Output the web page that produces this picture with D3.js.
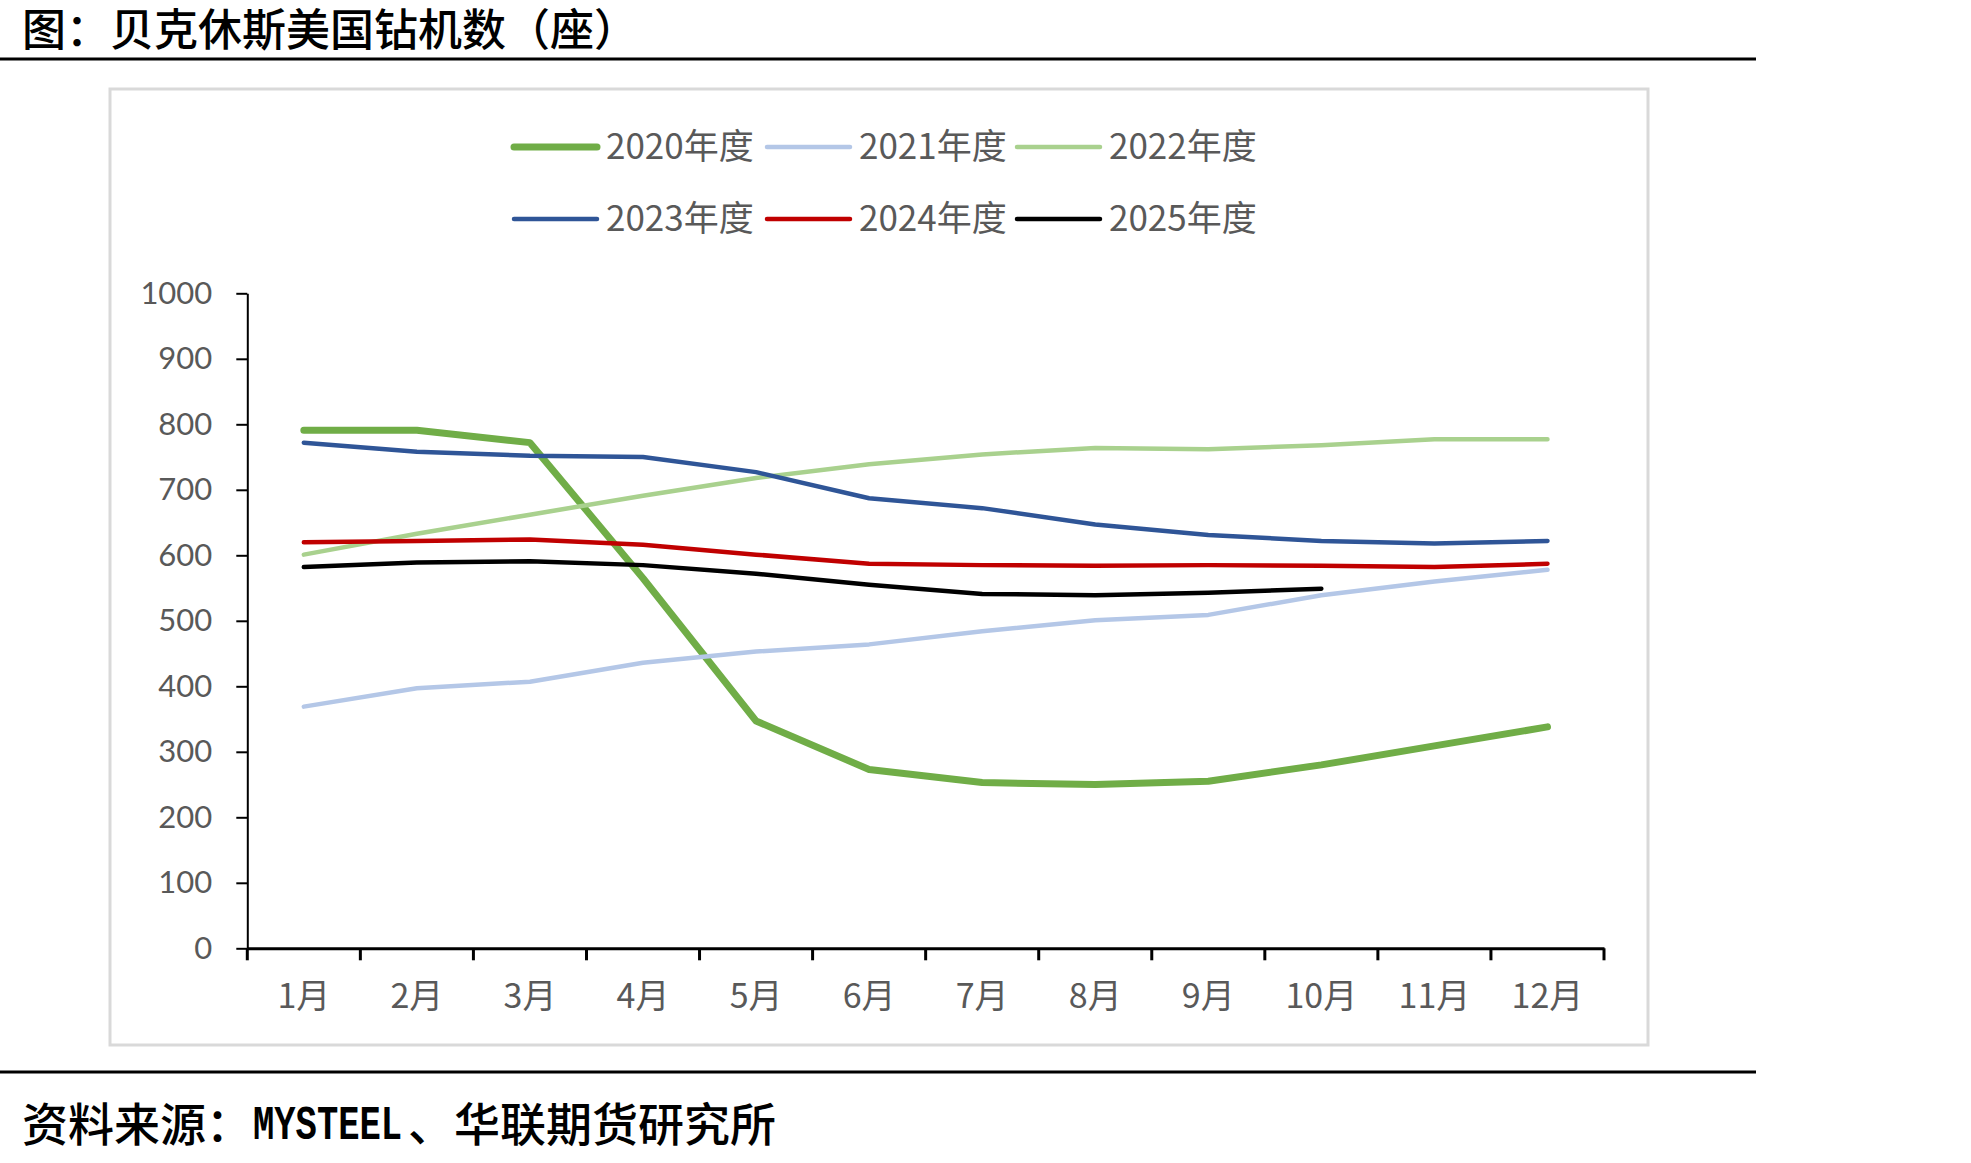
<!DOCTYPE html>
<html><head><meta charset="utf-8">
<script src="https://cdn.jsdelivr.net/npm/d3@7"></script>
<style>
html,body{margin:0;padding:0;background:#fff;}
svg{display:block;}
</style></head>
<body>
<svg id="c" width="1971" height="1163"></svg>
<script>
const months = ["1月","2月","3月","4月","5月","6月","7月","8月","9月","10月","11月","12月"];
const yTicks = [0,100,200,300,400,500,600,700,800,900,1000];
const seriesNames = ["2020年度","2021年度","2022年度","2023年度","2024年度","2025年度"];
const seriesColors = ["#70AD47","#B4C7E7","#A9D18E","#2F5597","#C00000","#000000"];
const v2020 = [791,791,772,565,347,273,253,250,255,280,309,338];
const v2021 = [369,397,407,436,453,464,484,501,509,539,560,578];
const v2022 = [601,633,662,691,718,739,754,764,762,768,777,777];
const v2023 = [772,758,752,750,727,687,672,647,631,622,618,622];
const v2024 = [620,622,624,616,601,587,585,584,585,584,582,587];
const v2025 = [582,589,591,585,572,555,541,539,543,549];
const seriesValues = [v2020,v2021,v2022,v2023,v2024,v2025];

const svg = d3.select("#c");
const cjk = "'Noto Sans CJK SC', sans-serif";

// title
svg.append("text").attr("x",22).attr("y",46)
  .attr("font-family",cjk).attr("font-size",44).attr("font-weight",500).attr("fill","#000")
  .text("图：贝克休斯美国钻机数（座）");
svg.append("line").attr("x1",0).attr("x2",1756).attr("y1",59).attr("y2",59).attr("stroke","#000").attr("stroke-width",3);

// footer
svg.append("line").attr("x1",0).attr("x2",1756).attr("y1",1072).attr("y2",1072).attr("stroke","#000").attr("stroke-width",3);
svg.append("text").attr("x",22).attr("y",1141).attr("font-family",cjk).attr("font-size",46).attr("font-weight",500).attr("fill","#000")
  .text("资料来源：");
svg.append("text").attr("transform","translate(253,1139) scale(1,1.35)")
  .attr("font-family","'Liberation Mono', 'DejaVu Sans Mono', monospace").attr("font-size",35.5)
  .attr("font-weight",700).attr("fill","#000").text("MYSTEEL");
svg.append("text").attr("x",408).attr("y",1141).attr("font-family",cjk).attr("font-size",46).attr("font-weight",500).attr("fill","#000")
  .text("、华联期货研究所");

// chart frame
svg.append("rect").attr("x",110).attr("y",89).attr("width",1538).attr("height",956)
  .attr("fill","#fff").attr("stroke","#d9d9d9").attr("stroke-width",3);

const x0 = 247.3, x1 = 1604, yTop = 293.3, yBot = 948.3;
const xb = d3.scaleBand().domain(months).range([x0,x1]).padding(0);
const y = d3.scaleLinear().domain([0,1000]).range([yBot,yTop]);
const xc = m => xb(m) + xb.bandwidth()/2;

// y axis
const ya = svg.append("g").attr("transform",`translate(${x0},0)`)
  .call(d3.axisLeft(y).tickValues(yTicks).tickFormat(d3.format("d")).tickSize(11).tickPadding(24).tickSizeOuter(0));
ya.select(".domain").attr("stroke","#000").attr("stroke-width",2);
ya.selectAll(".tick line").attr("stroke","#000").attr("stroke-width",2);
ya.selectAll(".tick text").attr("font-family","Lato, 'Open Sans', sans-serif").attr("font-size",31).attr("fill","#595959");

// x axis
const xa = svg.append("g").attr("transform",`translate(0,${yBot})`)
  .call(d3.axisBottom(xb).tickSize(0).tickPadding(36).tickSizeOuter(0));
xa.select(".domain").attr("stroke","#000").attr("stroke-width",3);
xa.selectAll(".tick text").attr("font-family",cjk).attr("font-size",34).attr("fill","#595959");
const edges = months.map(m => xb(m)).concat([xb(months[months.length-1]) + xb.step()]);
xa.selectAll(".edge").data(edges).enter().append("line").attr("class","edge")
  .attr("x1",d=>d).attr("x2",d=>d).attr("y1",0).attr("y2",12).attr("stroke","#000").attr("stroke-width",3);

// lines
const line = d3.line().x((d,i)=>xc(months[i])).y(d=>y(d));
seriesValues.forEach((vals,k)=>{
  svg.append("path").attr("d",line(vals)).attr("fill","none")
    .attr("stroke",seriesColors[k]).attr("stroke-width",k===0?7:4.5)
    .attr("stroke-linecap","round").attr("stroke-linejoin","round");
});

// legend
const legX = [514,767,1017];
const legY = [147,219];
seriesNames.forEach((name,k)=>{
  const col = k%3, row = Math.floor(k/3);
  const g = svg.append("g");
  g.append("line").attr("x1",legX[col]).attr("x2",legX[col]+83)
    .attr("y1",legY[row]).attr("y2",legY[row])
    .attr("stroke",seriesColors[k]).attr("stroke-width",k===0?7:4.5).attr("stroke-linecap","round");
  g.append("text").attr("x",legX[col]+92).attr("y",legY[row]).attr("dy","0.35em")
    .attr("font-family",cjk).attr("font-size",35).attr("fill","#595959").text(name);
});
</script>
</body></html>
